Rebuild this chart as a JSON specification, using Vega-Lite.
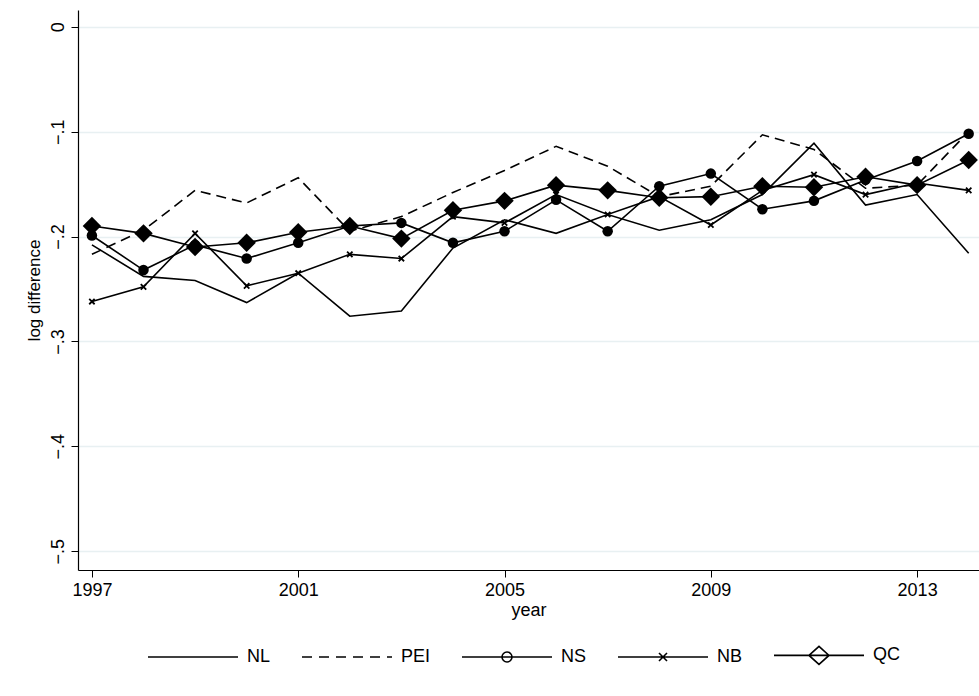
{
  "$schema": "https://vega.github.io/schema/vega-lite/v6.json",
  "width": 901,
  "height": 560,
  "autosize": {"type": "none"},
  "padding": {"left": 78, "top": 10, "right": 0, "bottom": 126},
  "background": "white",
  "config": {
    "font": "Liberation Sans",
    "view": {"stroke": null},
    "axis": {"labelFont": "Liberation Sans", "titleFont": "Liberation Sans", "labelColor": "black", "titleColor": "black", "domainColor": "black", "tickColor": "black"}
  },
  "data": {
    "values": [
      {"year": 1997, "series": "NL", "value": -0.208}, {"year": 1998, "series": "NL", "value": -0.238}, {"year": 1999, "series": "NL", "value": -0.242}, {"year": 2000, "series": "NL", "value": -0.263}, {"year": 2001, "series": "NL", "value": -0.235}, {"year": 2002, "series": "NL", "value": -0.276}, {"year": 2003, "series": "NL", "value": -0.271}, {"year": 2004, "series": "NL", "value": -0.211}, {"year": 2005, "series": "NL", "value": -0.184}, {"year": 2006, "series": "NL", "value": -0.197}, {"year": 2007, "series": "NL", "value": -0.179}, {"year": 2008, "series": "NL", "value": -0.194}, {"year": 2009, "series": "NL", "value": -0.184}, {"year": 2010, "series": "NL", "value": -0.160}, {"year": 2011, "series": "NL", "value": -0.111}, {"year": 2012, "series": "NL", "value": -0.170}, {"year": 2013, "series": "NL", "value": -0.160}, {"year": 2014, "series": "NL", "value": -0.216},
      {"year": 1997, "series": "PEI", "value": -0.217}, {"year": 1998, "series": "PEI", "value": -0.194}, {"year": 1999, "series": "PEI", "value": -0.156}, {"year": 2000, "series": "PEI", "value": -0.168}, {"year": 2001, "series": "PEI", "value": -0.144}, {"year": 2002, "series": "PEI", "value": -0.195}, {"year": 2003, "series": "PEI", "value": -0.181}, {"year": 2004, "series": "PEI", "value": -0.158}, {"year": 2005, "series": "PEI", "value": -0.137}, {"year": 2006, "series": "PEI", "value": -0.114}, {"year": 2007, "series": "PEI", "value": -0.133}, {"year": 2008, "series": "PEI", "value": -0.162}, {"year": 2009, "series": "PEI", "value": -0.152}, {"year": 2010, "series": "PEI", "value": -0.103}, {"year": 2011, "series": "PEI", "value": -0.117}, {"year": 2012, "series": "PEI", "value": -0.154}, {"year": 2013, "series": "PEI", "value": -0.151}, {"year": 2014, "series": "PEI", "value": -0.100},
      {"year": 1997, "series": "NS", "value": -0.199}, {"year": 1998, "series": "NS", "value": -0.232}, {"year": 1999, "series": "NS", "value": -0.208}, {"year": 2000, "series": "NS", "value": -0.221}, {"year": 2001, "series": "NS", "value": -0.206}, {"year": 2002, "series": "NS", "value": -0.190}, {"year": 2003, "series": "NS", "value": -0.187}, {"year": 2004, "series": "NS", "value": -0.206}, {"year": 2005, "series": "NS", "value": -0.195}, {"year": 2006, "series": "NS", "value": -0.165}, {"year": 2007, "series": "NS", "value": -0.195}, {"year": 2008, "series": "NS", "value": -0.152}, {"year": 2009, "series": "NS", "value": -0.140}, {"year": 2010, "series": "NS", "value": -0.174}, {"year": 2011, "series": "NS", "value": -0.166}, {"year": 2012, "series": "NS", "value": -0.146}, {"year": 2013, "series": "NS", "value": -0.128}, {"year": 2014, "series": "NS", "value": -0.102},
      {"year": 1997, "series": "NB", "value": -0.262}, {"year": 1998, "series": "NB", "value": -0.248}, {"year": 1999, "series": "NB", "value": -0.197}, {"year": 2000, "series": "NB", "value": -0.247}, {"year": 2001, "series": "NB", "value": -0.235}, {"year": 2002, "series": "NB", "value": -0.217}, {"year": 2003, "series": "NB", "value": -0.221}, {"year": 2004, "series": "NB", "value": -0.181}, {"year": 2005, "series": "NB", "value": -0.187}, {"year": 2006, "series": "NB", "value": -0.160}, {"year": 2007, "series": "NB", "value": -0.179}, {"year": 2008, "series": "NB", "value": -0.162}, {"year": 2009, "series": "NB", "value": -0.189}, {"year": 2010, "series": "NB", "value": -0.156}, {"year": 2011, "series": "NB", "value": -0.141}, {"year": 2012, "series": "NB", "value": -0.160}, {"year": 2013, "series": "NB", "value": -0.149}, {"year": 2014, "series": "NB", "value": -0.156},
      {"year": 1997, "series": "QC", "value": -0.190}, {"year": 1998, "series": "QC", "value": -0.197}, {"year": 1999, "series": "QC", "value": -0.210}, {"year": 2000, "series": "QC", "value": -0.206}, {"year": 2001, "series": "QC", "value": -0.196}, {"year": 2002, "series": "QC", "value": -0.190}, {"year": 2003, "series": "QC", "value": -0.202}, {"year": 2004, "series": "QC", "value": -0.175}, {"year": 2005, "series": "QC", "value": -0.166}, {"year": 2006, "series": "QC", "value": -0.151}, {"year": 2007, "series": "QC", "value": -0.156}, {"year": 2008, "series": "QC", "value": -0.163}, {"year": 2009, "series": "QC", "value": -0.162}, {"year": 2010, "series": "QC", "value": -0.152}, {"year": 2011, "series": "QC", "value": -0.153}, {"year": 2012, "series": "QC", "value": -0.143}, {"year": 2013, "series": "QC", "value": -0.151}, {"year": 2014, "series": "QC", "value": -0.127}
    ]
  },
  "encoding": {
    "x": {
      "field": "year", "type": "quantitative",
      "scale": {"domain": [1996.73, 2014.2], "nice": false, "zero": false},
      "axis": {"values": [1997, 2001, 2005, 2009, 2013], "format": "d", "grid": false, "title": "year", "labelFontSize": 18, "titleFontSize": 18, "titleFontWeight": "normal", "tickSize": 7, "labelPadding": 4, "titlePadding": 2, "domainWidth": 1.2}
    },
    "y": {
      "field": "value", "type": "quantitative",
      "scale": {"domain": [-0.518, 0.016], "nice": false, "zero": false},
      "axis": {"values": [0, -0.1, -0.2, -0.3, -0.4, -0.5], "labelExpr": "datum.value == 0 ? '0' : replace(format(datum.value, '.1f'), '0.', '.')", "labelAngle": 270, "labelAlign": "center", "labelBaseline": "bottom", "grid": true, "gridColor": "#e8f0f2", "gridWidth": 1.5, "title": "log difference", "labelFontSize": 18, "titleFontSize": 17, "titleFontWeight": "normal", "tickSize": 7, "labelPadding": 4, "titlePadding": 6, "domainWidth": 1.2}
    }
  },
  "layer": [
    {
      "transform": [{"filter": "datum.series != 'PEI'"}],
      "mark": {"type": "line", "color": "black", "strokeWidth": 1.6},
      "encoding": {"detail": {"field": "series"}}
    },
    {
      "transform": [{"filter": "datum.series == 'PEI'"}],
      "mark": {"type": "line", "color": "black", "strokeWidth": 1.6, "strokeDash": [10, 6]},
      "encoding": {}
    },
    {
      "transform": [{"filter": "datum.series == 'NS'"}],
      "mark": {"type": "point", "shape": "circle", "size": 110, "filled": true, "color": "black", "opacity": 1}
    },
    {
      "transform": [{"filter": "datum.series == 'NB'"}],
      "mark": {"type": "point", "shape": "M-0.7,-0.7L0.7,0.7M-0.7,0.7L0.7,-0.7", "size": 60, "filled": false, "color": "black", "strokeWidth": 1.8, "opacity": 1}
    },
    {
      "transform": [{"filter": "datum.series == 'QC'"}],
      "mark": {"type": "point", "shape": "diamond", "size": 340, "filled": true, "color": "black", "opacity": 1}
    },
    {
      "mark": {"type": "point", "filled": false, "color": "black", "strokeWidth": 1.6, "opacity": 0},
      "encoding": {
        "shape": {
          "field": "series", "type": "nominal",
          "scale": {"domain": ["NL", "PEI", "NS", "NB", "QC"], "range": [
            "M-4.5,0H4.5",
            "M-4.5,0H-3.5M-2.8,0H-1.8M-1.1,0H-0.1M0.6,0H1.6M2.3,0H3.3M4,0H4.5",
            "M-4.5,0H4.5M-0.5,0A0.5,0.5 0 1,1 0.5,0A0.5,0.5 0 1,1 -0.5,0Z",
            "M-4.5,0H4.5M-0.4,-0.4L0.4,0.4M-0.4,0.4L0.4,-0.4",
            "M-4.5,0H4.5M-1,0L0,-0.9L1,0L0,0.9Z"
          ]},
          "legend": {
            "orient": "none", "legendX": 104, "legendY": 634, "direction": "horizontal", "columns": 5,
            "title": null, "symbolSize": 400, "symbolOpacity": 1, "symbolFillColor": "black", "symbolStrokeColor": "black", "symbolStrokeWidth": 1.6,
            "labelFontSize": 18, "labelColor": "black", "labelFont": "Liberation Sans", "labelOffset": 43, "columnPadding": 27, "labelLimit": 200
          }
        }
      }
    }
  ]
}
